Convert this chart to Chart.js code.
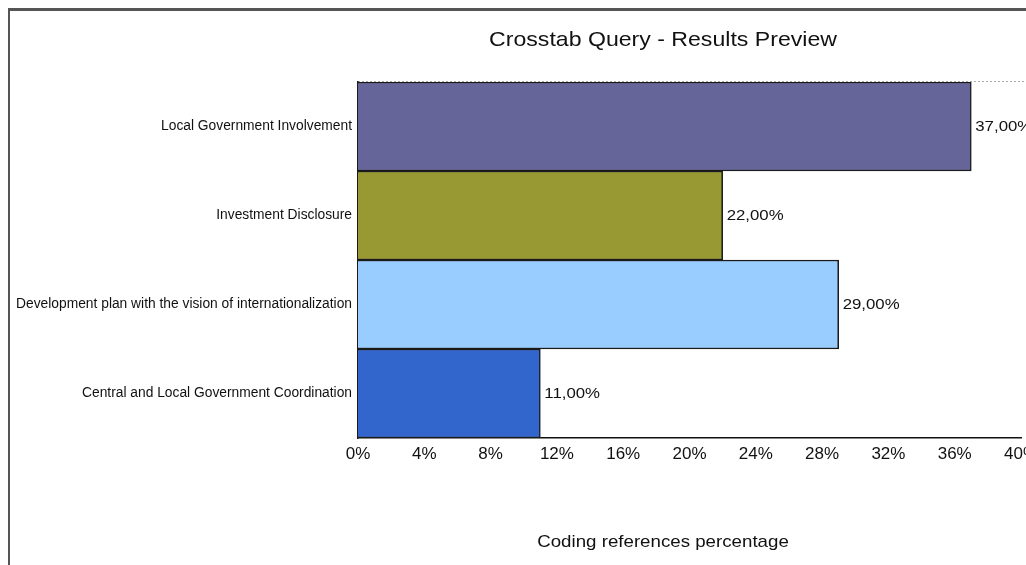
<!DOCTYPE html>
<html>
<head>
<meta charset="utf-8">
<script src="https://cdn.jsdelivr.net/npm/chart.js@4"></script>
<style>
  html, body { margin: 0; padding: 0; background: #fff; }
  #wrap { width: 1026px; height: 565px; }
</style>
</head>
<body>
<div id="wrap"><canvas id="queryChart" width="1026" height="565"></canvas></div>
<script>
const categories = [
    "Local Government Involvement",
    "Investment Disclosure",
    "Development plan with the vision of internationalization",
    "Central and Local Government Coordination"
];
const percentages = [37, 22, 29, 11];
const barColors = ["#65659a", "#999933", "#99ccff", "#3366cc"];
const tickValues = [0, 4, 8, 12, 16, 20, 24, 28, 32, 36, 40];

const chartTitle = "Crosstab Query - Results Preview";
const axisTitle = "Coding references percentage";

const FONT = '"Liberation Sans", Arial, sans-serif';

// text a bit wider than normal, like the source image
function wideText(c, txt, x, y, size, stretch, align) {
    c.save();
    c.font = size + 'px ' + FONT;
    c.textAlign = align;
    c.textBaseline = 'middle';
    c.translate(x, y);
    c.scale(stretch, 1);
    c.fillText(txt, 0, 0);
    c.restore();
}

// frame, titles and value labels
const extras = {
    id: 'extras',
    beforeDraw(chart) {
        const c = chart.ctx;
        c.save();
        c.fillStyle = '#fff';
        c.fillRect(0, 0, chart.width, chart.height);
        c.strokeStyle = '#555';
        c.lineWidth = 3;
        c.beginPath();
        c.moveTo(8, 9.5);
        c.lineTo(chart.width, 9.5);
        c.stroke();
        c.lineWidth = 2;
        c.beginPath();
        c.moveTo(9, 9);
        c.lineTo(9, chart.height);
        c.stroke();

        const a = chart.chartArea;
        c.strokeStyle = '#aaa';
        c.lineWidth = 1;
        c.setLineDash([2, 2]);
        c.beginPath();
        c.moveTo(a.left, a.top - 0.5);
        c.lineTo(chart.width, a.top - 0.5);
        c.stroke();
        c.restore();
    },
    afterDraw(chart) {
        const c = chart.ctx;
        c.save();
        c.fillStyle = '#111';
        wideText(c, chartTitle, 663, 40, 21, 1.1, 'center');
        wideText(c, axisTitle, 663, 542, 17, 1.1, 'center');

        const meta = chart.getDatasetMeta(0);
        meta.data.forEach((bar, i) => {
            const txt = percentages[i].toFixed(2).replace('.', ',') + '%';
            wideText(c, txt, bar.x + 4, bar.y, 15, 1.12, 'left');
        });
        c.restore();
    }
};

new Chart(document.getElementById('queryChart'), {
    type: 'bar',
    data: {
        labels: categories,
        datasets: [{
            data: percentages,
            backgroundColor: barColors,
            borderColor: '#1a1a1a',
            borderWidth: 1.5,
            barPercentage: 1,
            categoryPercentage: 1
        }]
    },
    options: {
        indexAxis: 'y',
        responsive: false,
        animation: false,
        layout: { padding: { top: 82, right: 5, left: 0, bottom: 0 } },
        plugins: {
            legend: { display: false },
            tooltip: { enabled: false }
        },
        scales: {
            x: {
                min: 0,
                max: 40,
                afterBuildTicks(scale) {
                    scale.ticks = tickValues.map(v => ({ value: v }));
                },
                afterFit(scale) {
                    scale.height = 127;
                    scale.paddingRight = 0;
                    scale.paddingLeft = 0;
                },
                grid: { display: false, drawTicks: false },
                border: { display: true, color: '#111', width: 1.5 },
                ticks: {
                    padding: 6,
                    color: '#111',
                    maxRotation: 0,
                    autoSkip: false,
                    font: { family: FONT, size: 17 },
                    callback: v => v + '%'
                }
            },
            y: {
                afterFit(scale) {
                    scale.width = 358;
                },
                grid: { display: false, drawTicks: false },
                border: { display: true, color: '#1a1a1a', width: 1.5 },
                ticks: {
                    padding: 6,
                    color: '#111',
                    font: { family: FONT, size: 13.8 }
                }
            }
        }
    },
    plugins: [extras]
});
</script>
</body>
</html>
